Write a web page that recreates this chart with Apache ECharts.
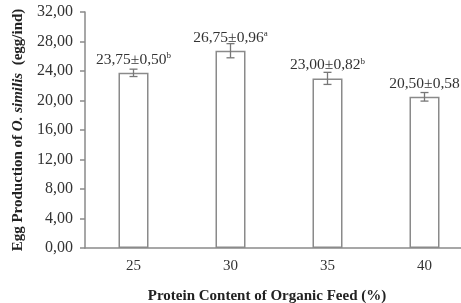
<!DOCTYPE html>
<html>
<head>
<meta charset="utf-8">
<script src="https://cdn.jsdelivr.net/npm/echarts@6/dist/echarts.min.js"></script>
<style>
  html, body { margin: 0; padding: 0; background: #fff; }
  #chart { width: 461px; height: 303px; }
</style>
</head>
<body>
<div id="chart"></div>
<script>
// protein content categories and egg production (mean, sd, letter)
var categories = ['25', '30', '35', '40'];
var means = [23.75, 26.75, 23.00, 20.50];
var sds = [0.50, 0.96, 0.82, 0.58];
var letters = ['b', 'a', 'b', ''];

var serif = '"Liberation Serif", "DejaVu Serif", serif';
var axisGray = '#8a8a8a';

function fmt(v) {
	return v.toFixed(2).replace('.', ',');
}

var errData = means.map(function (m, i) {
	return [i, m - sds[i], m + sds[i]];
});

var option = {
	animation: false,
	grid: { left: 85, top: 12, bottom: 55, right: -12, outerBoundsMode: 'none', containLabel: false },
	xAxis: {
		type: 'category',
		data: categories,
		axisLine: { lineStyle: { color: axisGray, width: 1.5 } },
		axisTick: { show: false },
		axisLabel: { color: '#333', fontFamily: serif, fontSize: 15, margin: 11 },
		name: 'Protein Content of Organic Feed (%)',
		nameLocation: 'middle',
		nameGap: 41,
		nameTextStyle: {
			color: '#222', fontFamily: serif, fontSize: 15, fontWeight: 'bold',
			padding: [0, 24, 0, 0]
		}
	},
	yAxis: {
		type: 'value',
		min: 0,
		max: 32,
		interval: 4,
		splitLine: { show: false },
		axisLine: { show: true, lineStyle: { color: axisGray, width: 1.5 } },
		axisTick: { show: true, length: 5, lineStyle: { color: axisGray, width: 1.5 } },
		axisLabel: {
			color: '#333', fontFamily: serif, fontSize: 16, margin: 12,
			formatter: function (v) { return fmt(v); }
		},
		name: '{b|Egg Production of }{i|O. similis}{b|  (egg/ind)}',
		nameLocation: 'middle',
		nameGap: 58,
		nameTextStyle: {
			rich: {
				b: { color: '#222', fontFamily: serif, fontSize: 15, fontWeight: 'bold' },
				i: { color: '#222', fontFamily: serif, fontSize: 15, fontWeight: 'bold', fontStyle: 'italic' }
			}
		}
	},
	series: [{
		type: 'bar',
		data: means,
		barWidth: 30,
		itemStyle: { color: '#fff', borderColor: '#8a8a8a', borderWidth: 1.5 },
		label: {
			show: true,
			position: 'top',
			distance: 5,
			formatter: function (p) {
				var i = p.dataIndex;
				var s = '{v|' + fmt(means[i]) + '±' + fmt(sds[i]) + '}';
				if (letters[i]) s += '{s|' + letters[i] + '}';
				return s;
			},
			rich: {
				v: { color: '#333', fontFamily: serif, fontSize: 15.5, lineHeight: 16 },
				s: { color: '#333', fontFamily: serif, fontSize: 9, lineHeight: 16, padding: [0, 0, 8, 0] }
			}
		},
		z: 2
	}, {
		type: 'custom',
		data: errData,
		renderItem: function (params, api) {
			var lo = api.coord([api.value(0), api.value(1)]);
			var hi = api.coord([api.value(0), api.value(2)]);
			var cap = 4;
			var style = { stroke: '#777', lineWidth: 1.3 };
			return {
				type: 'group',
				children: [
					{ type: 'line', shape: { x1: lo[0], y1: lo[1], x2: hi[0], y2: hi[1] }, style: style },
					{ type: 'line', shape: { x1: lo[0] - cap, y1: lo[1], x2: lo[0] + cap, y2: lo[1] }, style: style },
					{ type: 'line', shape: { x1: hi[0] - cap, y1: hi[1], x2: hi[0] + cap, y2: hi[1] }, style: style }
				]
			};
		},
		z: 3
	}]
};

var myChart = echarts.init(document.getElementById('chart'));
myChart.setOption(option, true);
</script>
</body>
</html>
